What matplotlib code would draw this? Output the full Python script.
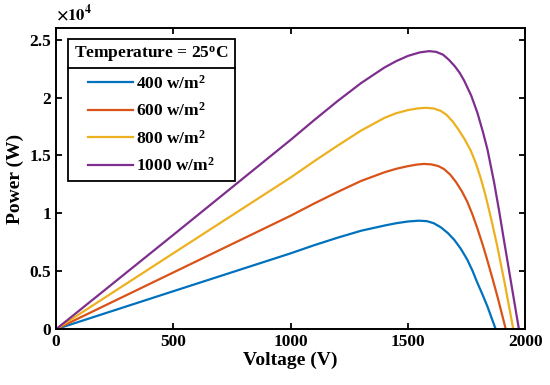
import matplotlib
matplotlib.use('Agg')
import matplotlib.pyplot as plt
from matplotlib.ticker import FuncFormatter
from matplotlib.lines import Line2D

plt.rcParams['font.family'] = 'Liberation Serif'
plt.rcParams['font.weight'] = 'bold'
plt.rcParams['mathtext.fontset'] = 'custom'
plt.rcParams['mathtext.rm'] = 'Liberation Serif:bold'
plt.rcParams['mathtext.it'] = 'Liberation Serif:bold'
plt.rcParams['mathtext.bf'] = 'Liberation Serif:bold'

# P-V curves (voltage in V, power in W)
v_400 = [0, 500, 1000, 1100, 1200, 1300, 1400, 1450, 1500, 1547, 1580, 1610, 1640, 1670, 1697, 1725, 1753, 1775, 1796, 1818, 1839, 1874]
p_400 = [0, 3280, 6550, 7250, 7900, 8500, 8950, 9150, 9300, 9370, 9330, 9150, 8800, 8300, 7725, 6950, 6000, 5050, 4000, 2980, 1950, 0]

v_600 = [0, 500, 1000, 1100, 1200, 1300, 1400, 1450, 1500, 1540, 1569, 1600, 1630, 1654, 1680, 1705, 1730, 1753, 1775, 1796, 1820, 1839, 1860, 1881, 1917]
p_600 = [0, 4900, 9800, 10850, 11850, 12800, 13550, 13850, 14080, 14220, 14270, 14230, 14080, 13820, 13350, 12700, 11900, 11000, 9900, 8700, 7200, 5900, 4400, 2850, 0]

v_800 = [0, 500, 1000, 1100, 1200, 1300, 1400, 1450, 1500, 1540, 1576, 1610, 1640, 1665, 1690, 1715, 1740, 1767, 1790, 1810, 1830, 1855, 1881, 1915, 1949]
p_800 = [0, 6560, 13100, 14500, 15850, 17150, 18250, 18650, 18920, 19060, 19117, 19060, 18850, 18500, 17950, 17250, 16450, 15450, 14300, 13050, 11600, 9500, 7145, 3700, 0]

v_1000 = [0, 500, 1000, 1100, 1200, 1300, 1400, 1450, 1500, 1550, 1590, 1620, 1650, 1675, 1700, 1720, 1740, 1770, 1796, 1820, 1839, 1867, 1890, 1909, 1940, 1973]
p_1000 = [0, 8150, 16350, 18050, 19700, 21250, 22600, 23150, 23600, 23900, 24010, 23950, 23700, 23250, 22700, 22150, 21450, 20150, 18690, 17000, 15510, 12700, 10050, 7710, 3970, 0]

labels = ['400 w/m$^{2}$', '600 w/m$^{2}$', '800 w/m$^{2}$', '1000 w/m$^{2}$']
colors = ['#0072BD', '#D95319', '#EDB120', '#7E2F8E']

fig = plt.figure(figsize=(5.5, 3.85), dpi=100)
ax = fig.add_axes([0.102, 0.145, 0.853, 0.782])

for v, p, lab, c in zip([v_400, v_600, v_800, v_1000], [p_400, p_600, p_800, p_1000], labels, colors):
    ax.plot(v, p, color=c, lw=1.6, label=lab)

ax.set_xlim(0, 2000)
ax.set_ylim(0, 26000)
ax.set_xticks([0, 500, 1000, 1500, 2000])
ax.set_yticks([0, 5000, 10000, 15000, 20000, 25000])
ax.yaxis.set_major_formatter(FuncFormatter(lambda y, pos: '%g' % (y / 1e4)))
ax.tick_params(direction='in', top=True, right=True, labelsize=12.5, width=1.3, length=4.5)
for s in ax.spines.values():
    s.set_linewidth(1.4)

ax.set_xlabel('Voltage (V)', fontsize=14, fontweight='bold', labelpad=1)
ax.set_ylabel('Power (W)', fontsize=14, fontweight='bold', labelpad=4)
ax.text(0.0, 1.012, r'$\times10^{4}$', transform=ax.transAxes, fontsize=12,
        math_fontfamily='stix', fontweight='normal', va='bottom', ha='left')

leg = ax.legend(loc='upper left', bbox_to_anchor=(0.026, 0.964), borderaxespad=0,
                title='Temperature = 25$^{\\mathrm{o}}$C',
                fontsize=12.5, title_fontsize=12.5, handlelength=2.55, handletextpad=0.2,
                labelspacing=0.55, borderpad=0.35, fancybox=False, framealpha=1,
                edgecolor='black')
leg.get_frame().set_linewidth(1.3)

# separator line under the legend title
fig.canvas.draw()
lb = leg.get_window_extent()
tb = leg.get_title().get_window_extent()
ysep = tb.y0 - 3
inv = fig.transFigure.inverted()
(x0, y0) = inv.transform((lb.x0, ysep))
(x1, y1) = inv.transform((lb.x1, ysep))
fig.add_artist(Line2D([x0, x1], [y0, y1], color='black', lw=1.3, transform=fig.transFigure))

fig.savefig('out.png', dpi=100)
